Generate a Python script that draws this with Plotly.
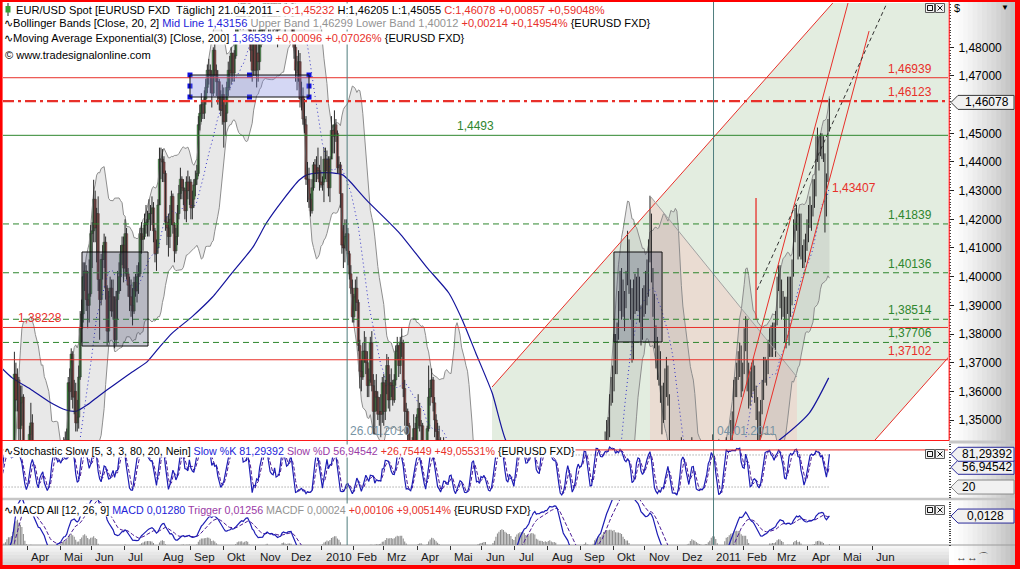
import numpy as np
import pandas as pd
import plotly.graph_objects as go

W, H = 1020, 569
FONT = "Liberation Sans, Arial, sans-serif"

# ------------------------------------------------------------------
# DATA  (EUR/USD daily bars in pips = price * 10000, business days
#        from 2009-02-09 to 2011-04-21; first 20 bars = warm-up)
# ------------------------------------------------------------------
close_pips = [
    12940, 12860, 12930, 12860, 12880, 12810, 12630, 12580, 12700, 12900, 12730, 12870, 12810, 12740, 12660, 12580, 12570, 12660, 12540, 12660,
    12650, 12800, 12760, 12900, 12920, 12870, 12960, 13220, 13660, 13570, 13640, 13470, 13560, 13580, 13280, 13170, 13250,
    13280, 13450, 13490, 13380, 13290, 13290, 13190, 13210, 13340, 13230, 13200, 13170, 13030, 12920, 13030, 13110, 13220, 13250, 13100, 13260, 13250, 13230,
    13270, 13370, 13380, 13310, 13430, 13630, 13600, 13730, 13580, 13600, 13490, 13510, 13650, 13820, 13870, 14000, 14020, 13920, 13900, 13940, 14150,
    14160, 14270, 14170, 14220, 13990, 13920, 14060, 14060, 14120, 13960, 13810, 13930, 13960, 13880, 13930, 13780, 13920, 13950, 14000, 14080, 14110, 14030,
    14150, 14010, 13970, 13930, 13900, 13880, 13980, 13950, 14000, 14010, 14150, 14130, 14140, 14180, 14190, 14200, 14220, 14220, 14240, 14160, 14080, 14100, 14250,
    14410, 14410, 14400, 14360, 14190, 14170, 14140, 14200, 14280, 14180, 14090, 14140, 14220, 14290, 14340, 14310, 14300, 14230, 14330, 14300, 14330,
    14240, 14270, 14320, 14340, 14360, 14530, 14570, 14600, 14570, 14620, 14660, 14720, 14720, 14700, 14640, 14790, 14720, 14680, 14680, 14620, 14580, 14635,
    14540, 14570, 14660, 14720, 14710, 14780, 14710, 14770, 14850, 14920, 14930, 14900, 14960, 14880, 15020, 15050, 15010, 14860, 14790, 14720, 14850, 14720,
    14780, 14750, 14860, 14870, 14860, 15010, 14970, 15000, 14880, 14900, 14970, 14880, 14960, 14870, 14860, 14970, 14970, 15140, 15060, 14980, 15000,
    15090, 15070, 15060, 14850, 14800, 14720, 14710, 14750, 14620, 14630, 14550, 14530, 14340, 14340, 14270, 14230, 14310, 14390, 14360, 14380, 14370, 14330, 14320,
    14330, 14410, 14370, 14410, 14310, 14410, 14510, 14490, 14530, 14500, 14380, 14390, 14290, 14110, 14100, 14140, 14150, 14080, 14010, 13960, 13860,
    13930, 13960, 13910, 13760, 13670, 13650, 13740, 13740, 13700, 13620, 13640, 13770, 13620, 13530, 13600, 13580, 13520, 13530, 13520, 13630,
    13530, 13620, 13690, 13570, 13630, 13620, 13570, 13640, 13740, 13760, 13690, 13770, 13770, 13610, 13530, 13530, 13480, 13310, 13330, 13420, 13470, 13400, 13510,
    13540, 13480, 13480, 13350, 13370, 13340, 13470, 13580, 13610, 13640, 13560, 13500, 13460, 13430, 13420, 13310, 13370, 13370, 13180, 13200, 13260, 13290,
    13200, 12990, 12830, 12620, 12750, 12790, 12680, 12650, 12520, 12380, 12360, 12220, 12300, 12510, 12550, 12350, 12360, 12200, 12370, 12270, 12270,
    12220, 12230, 12190, 11970, 11930, 11980, 11960, 12110, 12110, 12270, 12330, 12310, 12380, 12380, 12330, 12280, 12310, 12300, 12380, 12270, 12170, 12230,
    12510, 12560, 12560, 12620, 12630, 12690, 12640, 12610, 12730, 12750, 12940, 12940, 12940, 12940, 12750, 12920, 12900, 12990, 13000, 12980, 13100, 13050,
    13190, 13230, 13150, 13180, 13270, 13240, 13140, 12900, 12840, 12760, 12820, 12880, 12870, 12840, 12710, 12660, 12630, 12660, 12730, 12760, 12690, 12680,
    12830, 12820, 12890, 12890, 12710, 12740, 12700, 12710, 12890, 13020, 13000, 13070, 13050, 13040, 13250, 13370, 13320, 13490, 13470, 13570, 13620, 13630,
    13790, 13680, 13830, 13910, 13960, 13980, 13900, 13930, 13980, 14100, 13970, 13930, 13720, 13950, 13950, 13960, 13970, 13880, 13800, 13930, 13940,
    13920, 14020, 14100, 14200, 14030, 13930, 13760, 13780, 13670, 13700, 13590, 13560, 13510, 13610, 13670, 13580, 13370, 13330, 13350, 13240, 13070, 12990,
    13150, 13290, 13400, 13250, 13260, 13230, 13240, 13220, 13380, 13370, 13230, 13230, 13180, 13130, 13130, 13110, 13070, 13100, 13130, 13100, 13210, 13220, 13380,
    13350, 13300, 13150, 12990, 12910, 12940, 12970, 13120, 13370, 13380, 13310, 13410, 13470, 13480, 13610, 13620, 13680, 13700, 13760, 13610, 13690,
    13800, 13850, 13650, 13580, 13620, 13640, 13680, 13590, 13540, 13480, 13480, 13540, 13600, 13690, 13670, 13680, 13760, 13790, 13750, 13800,
    13780, 13860, 13980, 14000, 13970, 13900, 13920, 13800, 13900, 13980, 13970, 13920, 14020, 14180, 14180, 14210, 14090, 14210, 14090, 14070, 14100, 14110, 14160,
    14230, 14220, 14230, 14300, 14300, 14480, 14440, 14460, 14440, 14480, 14430, 14230, 14340, 14522, 14608,
]
high_pips = [
    13020, 12990, 12970, 12940, 12930, 12890, 12820, 12690, 12740, 12920, 12940, 12890, 12900, 12880, 12790, 12690, 12640, 12690, 12700, 12710,
    12720, 12840, 12880, 12940, 13000, 12990, 13040, 13300, 13738, 13700, 13680, 13650, 13620, 13620, 13590, 13330, 13310,
    13300, 13480, 13560, 13520, 13380, 13350, 13300, 13250, 13370, 13400, 13260, 13240, 13200, 13050, 13070, 13150, 13260, 13300, 13250, 13280, 13370, 13330,
    13350, 13420, 13440, 13460, 13470, 13650, 13680, 13750, 13740, 13640, 13630, 13570, 13690, 13880, 13920, 14050, 14050, 14040, 14020, 14060, 14180,
    14190, 14338, 14300, 14240, 14280, 13990, 14080, 14110, 14150, 14140, 13970, 13950, 14000, 13990, 13990, 13930, 13950, 14020, 14050, 14110, 14140, 14140,
    14200, 14170, 14030, 14000, 13990, 13960, 14000, 14010, 14040, 14050, 14170, 14190, 14170, 14220, 14250, 14230, 14270, 14250, 14280, 14260, 14170, 14130, 14270,
    14450, 14450, 14445, 14420, 14370, 14210, 14220, 14250, 14300, 14290, 14190, 14170, 14250, 14320, 14380, 14350, 14340, 14310, 14350, 14370, 14350,
    14340, 14300, 14340, 14370, 14390, 14560, 14600, 14640, 14610, 14650, 14690, 14740, 14760, 14740, 14720, 14800, 14844, 14740, 14720, 14690, 14650, 14670,
    14660, 14600, 14680, 14750, 14770, 14800, 14780, 14790, 14880, 14940, 14960, 14940, 14980, 14990, 15050, 15062, 15060, 15060, 14880, 14830, 14870, 14900,
    14820, 14850, 14900, 14900, 14920, 15040, 15020, 15030, 15010, 14930, 15000, 14980, 14990, 14970, 14900, 15000, 15010, 15144, 15140, 15100, 15030,
    15110, 15130, 15090, 15100, 14880, 14830, 14770, 14790, 14780, 14680, 14660, 14620, 14560, 14400, 14380, 14290, 14340, 14400, 14410, 14420, 14450, 14390, 14420,
    14350, 14450, 14450, 14440, 14420, 14420, 14560, 14530, 14580, 14550, 14510, 14420, 14400, 14290, 14180, 14200, 14200, 14170, 14090, 14040, 13990,
    13940, 13990, 14000, 13920, 13780, 13710, 13770, 13810, 13790, 13740, 13680, 13790, 13810, 13660, 13640, 13660, 13600, 13580, 13590, 13650,
    13660, 13640, 13730, 13720, 13660, 13680, 13640, 13660, 13760, 13790, 13760, 13790, 13820, 13780, 13640, 13560, 13540, 13490, 13360, 13440, 13520, 13490, 13520,
    13590, 13560, 13500, 13490, 13410, 13400, 13480, 13690, 13640, 13680, 13650, 13580, 13520, 13490, 13480, 13440, 13390, 13440, 13390, 13260, 13290, 13320,
    13310, 13220, 13000, 12860, 12780, 13090, 12840, 12720, 12670, 12530, 12400, 12480, 12350, 12540, 12670, 12570, 12400, 12370, 12400, 12400, 12310,
    12290, 12300, 12310, 12210, 12000, 12020, 12080, 12140, 12160, 12300, 12370, 12350, 12400, 12410, 12460, 12380, 12330, 12360, 12400, 12390, 12300, 12260,
    12530, 12580, 12590, 12670, 12660, 12720, 12710, 12660, 12750, 12790, 12970, 13030, 12990, 12990, 12960, 12940, 12950, 13010, 13050, 13040, 13110, 13120,
    13230, 13270, 13240, 13220, 13330, 13280, 13240, 13140, 12910, 12860, 12850, 12910, 12900, 12900, 12850, 12730, 12690, 12690, 12750, 12790, 12790, 12720,
    12850, 12860, 12920, 12920, 12900, 12760, 12790, 12760, 12900, 13030, 13070, 13090, 13160, 13090, 13270, 13400, 13460, 13500, 13510, 13590, 13650, 13690,
    13800, 13800, 13840, 13950, 14020, 14030, 13990, 13950, 14020, 14160, 14130, 13990, 13960, 13990, 14010, 14000, 14030, 14000, 13900, 13960, 13970,
    14020, 14060, 14130, 14282, 14220, 14010, 13940, 13830, 13790, 13760, 13740, 13620, 13630, 13680, 13720, 13690, 13590, 13400, 13410, 13380, 13250, 13100,
    13190, 13310, 13440, 13420, 13420, 13280, 13290, 13290, 13400, 13440, 13400, 13270, 13260, 13220, 13190, 13160, 13130, 13120, 13160, 13160, 13230, 13270, 13420,
    13450, 13400, 13320, 13160, 13010, 12970, 13000, 13140, 13400, 13440, 13390, 13430, 13500, 13530, 13640, 13650, 13700, 13740, 13770, 13750, 13700,
    13820, 13862, 13850, 13700, 13670, 13700, 13710, 13690, 13620, 13580, 13530, 13570, 13640, 13720, 13720, 13710, 13780, 13820, 13830, 13840,
    13840, 13880, 14000, 14040, 14040, 13990, 13950, 13930, 13930, 14000, 14000, 14000, 14060, 14200, 14240, 14250, 14220, 14220, 14220, 14110, 14130, 14150, 14200,
    14250, 14280, 14250, 14340, 14340, 14490, 14520, 14490, 14500, 14500, 14490, 14430, 14360, 14550, 14621,
]
low_pips = [
    12850, 12810, 12840, 12820, 12800, 12760, 12580, 12530, 12560, 12660, 12700, 12690, 12770, 12700, 12620, 12530, 12490, 12540, 12500, 12480,
    12560, 12620, 12700, 12710, 12840, 12800, 12840, 12920, 13180, 13530, 13530, 13420, 13410, 13480, 13250, 13110, 13130,
    13110, 13180, 13390, 13320, 13210, 13190, 13150, 13170, 13180, 13180, 13110, 13130, 12970, 12890, 12900, 12990, 13080, 13180, 13060, 13030, 13190, 13200,
    13150, 13240, 13300, 13230, 13280, 13380, 13530, 13570, 13540, 13520, 13460, 13460, 13470, 13640, 13770, 13840, 13950, 13880, 13820, 13840, 13930,
    14030, 14120, 14120, 14050, 13950, 13780, 13900, 13990, 14030, 13920, 13760, 13770, 13880, 13860, 13850, 13750, 13760, 13850, 13940, 13950, 14040, 13980,
    14000, 13990, 13930, 13880, 13860, 13830, 13870, 13930, 13910, 13940, 14000, 14080, 14090, 14130, 14150, 14140, 14140, 14160, 14180, 14120, 14050, 14020, 14080,
    14250, 14340, 14330, 14330, 14160, 14110, 14070, 14100, 14180, 14150, 14050, 14080, 14110, 14200, 14270, 14270, 14250, 14200, 14190, 14270, 14250,
    14200, 14200, 14240, 14280, 14320, 14350, 14510, 14540, 14550, 14550, 14600, 14640, 14670, 14640, 14590, 14630, 14700, 14630, 14600, 14580, 14560, 14530,
    14450, 14490, 14540, 14630, 14650, 14670, 14680, 14680, 14760, 14830, 14880, 14860, 14870, 14860, 14870, 14990, 14980, 14850, 14750, 14680, 14700, 14700,
    14660, 14680, 14720, 14800, 14810, 14850, 14940, 14940, 14830, 14840, 14890, 14850, 14860, 14840, 14800, 14870, 14920, 14960, 15010, 14830, 14940,
    14970, 15010, 15000, 14820, 14760, 14680, 14650, 14680, 14590, 14580, 14530, 14500, 14320, 14260, 14240, 14210, 14220, 14300, 14330, 14330, 14340, 14300, 14310,
    14300, 14260, 14340, 14330, 14280, 14260, 14420, 14430, 14430, 14470, 14360, 14360, 14240, 14080, 14030, 14050, 14090, 14040, 13990, 13940, 13840,
    13840, 13880, 13880, 13740, 13610, 13600, 13640, 13700, 13660, 13580, 13580, 13630, 13600, 13450, 13450, 13530, 13500, 13480, 13440, 13490,
    13480, 13500, 13590, 13540, 13530, 13580, 13550, 13560, 13620, 13710, 13650, 13660, 13720, 13580, 13480, 13450, 13420, 13270, 13270, 13300, 13410, 13380, 13380,
    13470, 13460, 13420, 13320, 13310, 13300, 13310, 13460, 13550, 13580, 13530, 13440, 13390, 13400, 13390, 13290, 13270, 13330, 13160, 13120, 13140, 13230,
    13140, 12970, 12800, 12530, 12520, 12760, 12630, 12580, 12500, 12350, 12230, 12170, 12150, 12290, 12440, 12340, 12150, 12160, 12160, 12220, 12210,
    12120, 12110, 12170, 11960, 11880, 11900, 11940, 11950, 12030, 12100, 12240, 12260, 12260, 12340, 12300, 12230, 12260, 12250, 12270, 12230, 12150, 12150,
    12210, 12480, 12510, 12520, 12560, 12620, 12620, 12580, 12590, 12710, 12740, 12880, 12860, 12840, 12730, 12730, 12830, 12890, 12930, 12960, 12970, 12990,
    13030, 13150, 13120, 13110, 13110, 13200, 13100, 12880, 12820, 12720, 12730, 12790, 12830, 12800, 12700, 12620, 12590, 12620, 12630, 12690, 12680, 12650,
    12660, 12760, 12810, 12860, 12690, 12660, 12660, 12650, 12700, 12860, 12950, 12960, 13000, 12980, 13000, 13210, 13280, 13290, 13400, 13440, 13550, 13560,
    13600, 13660, 13660, 13780, 13880, 13850, 13860, 13810, 13890, 13970, 13940, 13850, 13700, 13710, 13870, 13880, 13880, 13840, 13760, 13780, 13860,
    13870, 13900, 13930, 14050, 13980, 13860, 13750, 13680, 13640, 13620, 13560, 13450, 13490, 13500, 13580, 13550, 13350, 13300, 13290, 13220, 13040, 12970,
    12980, 13120, 13260, 13220, 13220, 13180, 13180, 13190, 13220, 13340, 13210, 13180, 13150, 13080, 13080, 13070, 13050, 13060, 13080, 13070, 13090, 13150, 13190,
    13250, 13250, 13130, 12970, 12870, 12867, 12910, 12950, 13100, 13330, 13280, 13300, 13390, 13410, 13460, 13580, 13580, 13640, 13650, 13580, 13600,
    13660, 13740, 13600, 13540, 13550, 13580, 13600, 13560, 13500, 13430, 13430, 13440, 13520, 13570, 13630, 13620, 13660, 13720, 13720, 13720,
    13750, 13720, 13830, 13950, 13890, 13850, 13860, 13770, 13750, 13870, 13760, 13860, 13900, 14000, 14120, 14160, 14060, 14070, 14060, 14030, 14030, 14050, 14090,
    14120, 14170, 14160, 14210, 14240, 14280, 14400, 14370, 14420, 14410, 14400, 14154, 14210, 14330, 14506,
]

# EMA(200)
ema_dates = ['2009-03-09', '2009-03-18', '2009-04-06', '2009-04-22', '2009-05-07', '2009-05-18', '2009-05-27', '2009-06-08',
             '2009-06-23', '2009-07-08', '2009-07-22', '2009-08-03', '2009-08-14', '2009-09-02', '2009-09-22', '2009-10-09',
             '2009-10-29', '2009-11-11', '2009-11-26', '2009-12-11', '2009-12-18', '2009-12-30', '2010-01-12', '2010-01-21',
             '2010-01-27', '2010-02-12', '2010-03-16', '2010-04-09', '2010-04-30', '2010-05-13', '2010-05-26', '2010-06-10',
             '2010-06-23', '2010-07-15', '2010-08-16', '2010-09-15', '2010-10-15', '2010-11-15', '2010-12-15', '2011-01-14',
             '2011-02-08', '2011-03-07', '2011-04-04', '2011-04-21']
ema_vals = [1.3681, 1.3647, 1.3605, 1.3563, 1.3535, 1.3531, 1.3552, 1.3584, 1.3626, 1.3667, 1.3702, 1.3751, 1.3803, 1.3859,
            1.3929, 1.4013, 1.4103, 1.4187, 1.4267, 1.4337, 1.4355, 1.4362, 1.4362, 1.4355, 1.4337, 1.4267, 1.4152, 1.4034,
            1.3943, 1.3849, 1.3734, 1.3594, 1.3430, 1.3290, 1.3220, 1.3180, 1.3210, 1.3260, 1.3280, 1.3300, 1.3360, 1.3430,
            1.3524, 1.3647]

# Horizontal levels
hline_levels = [1.46939, 1.46123, 1.4493, 1.41839, 1.40136, 1.38514, 1.38228, 1.37706, 1.37102]
hline_labels = ['1,46939', '1,46123', '1,4493', '1,41839', '1,40136', '1,38514', '1,38228', '1,37706', '1,37102']

# Drawing tools (date, price anchors)
channel_dates = ['2010-06-09 21:36', '2011-09-29 12:00']
channel_upper = [1.36151, 1.56996]
channel_lower = [1.19248, 1.40093]
trend_dates = ['2010-12-27', '2011-05-30']
trend1_prices = [1.30782, 1.52298]
trend2_prices = [1.27050, 1.48566]
dash_dates = ['2011-02-14 02:00', '2011-06-27']
dash_prices = [1.39534, 1.50469]
tri_dates = ['2010-11-04 12:00', '2011-03-22 19:00']
tri_prices = [1.4282, 1.3650]
mark_date = '2011-02-11 10:00'
mark_prices = [1.38488, 1.42743]
boxA_dates = ['2009-05-21 17:00', '2009-07-22 20:00']
boxA_prices = [1.37581, 1.40860]
boxB_dates = ['2010-10-01 10:00', '2010-11-16 14:00']
boxB_prices = [1.37721, 1.40860]
sel_dates = ['2009-08-31 22:00', '2009-10-26 17:00', '2009-12-21 12:00']
sel_prices = [1.46266, 1.466495, 1.47033]
vline_dates = ['2010-01-26', '2011-01-04']
vline_labels = ['26.01.2010', '04.01.2011']
trend_value_label = '1,43407'
trend_value = 1.43407

month_starts = ['2009-04-01', '2009-05-01', '2009-06-01', '2009-07-01', '2009-08-03', '2009-09-01', '2009-10-01', '2009-11-02',
                '2009-12-01', '2010-01-01', '2010-02-01', '2010-03-01', '2010-04-01', '2010-05-03', '2010-06-01', '2010-07-01',
                '2010-08-02', '2010-09-01', '2010-10-01', '2010-11-01', '2010-12-01', '2011-01-03', '2011-02-01', '2011-03-01',
                '2011-04-01', '2011-05-02', '2011-06-01']
month_labels = ['Apr', 'Mai', 'Jun', 'Jul', 'Aug', 'Sep', 'Okt', 'Nov', 'Dez', '2010', 'Feb', 'Mrz', 'Apr', 'Mai', 'Jun', 'Jul',
                'Aug', 'Sep', 'Okt', 'Nov', 'Dez', '2011', 'Feb', 'Mrz', 'Apr', 'Mai', 'Jun']
y_tick_vals = [1.35, 1.36, 1.37, 1.38, 1.39, 1.40, 1.41, 1.42, 1.43, 1.44, 1.45, 1.47, 1.48]

last_close = 1.46078
last_close_txt = '1,46078'
stoch_k_last, stoch_k_txt = 81.29392, '81,29392'
stoch_d_last, stoch_d_txt = 56.94542, '56,94542'
macd_last, macd_txt = 0.0128, '0,0128'

# ------------------------------------------------------------------
# series / indicators
# ------------------------------------------------------------------
n = min(len(close_pips), len(high_pips), len(low_pips))
dates = pd.bdate_range('2009-02-09', periods=n)
bar_x = dates + pd.Timedelta(hours=12)          # bar centre = middle of the trading day
c = pd.Series(np.array(close_pips[:n]) / 10000.0, index=dates)
hi = pd.Series(np.array(high_pips[:n]) / 10000.0, index=dates)
lo = pd.Series(np.array(low_pips[:n]) / 10000.0, index=dates)
o = c.shift(1).fillna(c.iloc[0])
hi = np.maximum(hi, np.maximum(o, c))
lo = np.minimum(lo, np.minimum(o, c))

bb_mid = c.rolling(20).mean()
bb_sd = c.rolling(20).std(ddof=0)
bb_up = bb_mid + 2 * bb_sd
bb_lo = bb_mid - 2 * bb_sd

ll5 = lo.rolling(5).min()
hh5 = hi.rolling(5).max()
fastk = 100 * (c - ll5) / (hh5 - ll5)
slowk = fastk.rolling(3).mean()
slowd = slowk.rolling(3).mean()

ema12 = c.ewm(span=12, adjust=False).mean()
ema26 = c.ewm(span=26, adjust=False).mean()
macd = ema12 - ema26
trig = macd.ewm(span=9, adjust=False).mean()
hist = macd - trig

# ------------------------------------------------------------------
# layout helpers
# ------------------------------------------------------------------
def px(x):
    return x / W


def py(y):
    return 1 - y / H


P_LO, P_HI = 1.34303, 1.49545
X_RANGE = ['2009-03-09 21:00', '2011-08-10 19:00']
XDOM = [px(3), px(948)]
RED = '#e8302a'
GREEN = '#2e862e'
BLUE = '#2323d8'
GRAY = '#939393'
PURPLE = '#9a3aa6'
DAY_MS = 86400000

fig = go.Figure()

# green channel area
fig.add_trace(go.Scatter(
    x=[channel_dates[0], channel_dates[1], channel_dates[1], channel_dates[0], channel_dates[0]],
    y=[channel_upper[0], channel_upper[1], channel_lower[1], channel_lower[0], channel_upper[0]],
    fill='toself', fillcolor='#e3ede0', line=dict(width=0), mode='lines', hoverinfo='skip'))
# tan triangle area
fig.add_trace(go.Scatter(
    x=[tri_dates[0], tri_dates[1], tri_dates[1], tri_dates[0], tri_dates[0]],
    y=[tri_prices[0], tri_prices[1], 1.30, 1.30, tri_prices[0]],
    fill='toself', fillcolor='#eadcd2', line=dict(width=0), mode='lines', hoverinfo='skip'))

# Bollinger bands
v = bb_up.notna().values
fig.add_trace(go.Scatter(x=bar_x[v], y=bb_lo[v], mode='lines', line=dict(color='#8e8e8e', width=1), hoverinfo='skip'))
fig.add_trace(go.Scatter(x=bar_x[v], y=bb_up[v], mode='lines', line=dict(color='#8e8e8e', width=1),
                         fill='tonexty', fillcolor='rgba(150,150,150,0.22)', hoverinfo='skip'))
fig.add_trace(go.Scatter(x=bar_x[v], y=bb_mid[v], mode='lines', line=dict(color='#3434c8', width=1, dash='1px,3px'),
                         hoverinfo='skip'))

# EMA 200
fig.add_trace(go.Scatter(x=ema_dates, y=ema_vals, mode='lines', line=dict(color='#14149c', width=1.2, shape='spline', smoothing=0.6),
                         hoverinfo='skip'))

# candles: wicks + bodies
wx, wy = [], []
for t, h_, l_ in zip(bar_x, hi.values, lo.values):
    wx += [t, t, None]
    wy += [l_, h_, None]
fig.add_trace(go.Scatter(x=wx, y=wy, mode='lines', line=dict(color='#2a2a2a', width=1), hoverinfo='skip'))
up = (c >= o).values
dn = ~up
fig.add_trace(go.Bar(x=bar_x[up], y=(c - o).values[up], base=o.values[up], width=1.6 * DAY_MS,
                     marker=dict(color='#42b442', line=dict(color='#1e1e1e', width=0.45)), hoverinfo='skip'))
fig.add_trace(go.Bar(x=bar_x[dn], y=(o - c).values[dn], base=c.values[dn], width=1.6 * DAY_MS,
                     marker=dict(color='#c84a46', line=dict(color='#1e1e1e', width=0.45)), hoverinfo='skip'))

# drawing tool lines
fig.add_trace(go.Scatter(x=channel_dates, y=channel_upper, mode='lines', line=dict(color=RED, width=1), hoverinfo='skip'))
fig.add_trace(go.Scatter(x=channel_dates, y=channel_lower, mode='lines', line=dict(color=RED, width=1), hoverinfo='skip'))
fig.add_trace(go.Scatter(x=tri_dates, y=tri_prices, mode='lines', line=dict(color='#a2a2a2', width=1), hoverinfo='skip'))
fig.add_trace(go.Scatter(x=trend_dates, y=trend1_prices, mode='lines', line=dict(color=RED, width=1), hoverinfo='skip'))
fig.add_trace(go.Scatter(x=trend_dates, y=trend2_prices, mode='lines', line=dict(color=RED, width=1), hoverinfo='skip'))
fig.add_trace(go.Scatter(x=dash_dates, y=dash_prices, mode='lines', line=dict(color='#303030', width=1, dash='4px,3px'),
                         hoverinfo='skip'))
fig.add_trace(go.Scatter(x=[mark_date, mark_date], y=mark_prices, mode='lines', line=dict(color=RED, width=1.3), hoverinfo='skip'))

# selection handles on blue rectangle
hx, hy = [], []
for i, dx in enumerate(sel_dates):
    for j, yy in enumerate(sel_prices):
        if i == 1 and j == 1:
            continue
        hx.append(dx)
        hy.append(yy)
fig.add_trace(go.Scatter(x=hx, y=hy, mode='markers', marker=dict(symbol='square', size=5, color='#1010e0'), hoverinfo='skip',
                         cliponaxis=False))

# stochastic panel
fig.add_trace(go.Scatter(x=[bar_x[0], bar_x[-1]], y=[80, 80], xaxis='x2', yaxis='y2', mode='lines',
                         line=dict(color='#808080', width=1, dash='1px,2px'), hoverinfo='skip'))
fig.add_trace(go.Scatter(x=[bar_x[0], bar_x[-1]], y=[20, 20], xaxis='x2', yaxis='y2', mode='lines',
                         line=dict(color='#808080', width=1, dash='1px,2px'), hoverinfo='skip'))
fig.add_trace(go.Scatter(x=bar_x, y=slowd, xaxis='x2', yaxis='y2', mode='lines',
                         line=dict(color='#4a1a96', width=1, dash='4px,2px'), hoverinfo='skip'))
fig.add_trace(go.Scatter(x=bar_x, y=slowk, xaxis='x2', yaxis='y2', mode='lines',
                         line=dict(color='#1c1cb4', width=1.2), hoverinfo='skip'))

# MACD panel
fig.add_trace(go.Bar(x=bar_x, y=hist, xaxis='x3', yaxis='y3', width=0.7 * DAY_MS,
                     marker=dict(color='#8a8a8a', line=dict(width=0)), hoverinfo='skip'))
fig.add_trace(go.Scatter(x=bar_x, y=trig, xaxis='x3', yaxis='y3', mode='lines',
                         line=dict(color='#4a1a96', width=1, dash='4px,2px'), hoverinfo='skip'))
fig.add_trace(go.Scatter(x=bar_x, y=macd, xaxis='x3', yaxis='y3', mode='lines',
                         line=dict(color='#1c1cb4', width=1.2), hoverinfo='skip'))

# ------------------------------------------------------------------
# shapes
# ------------------------------------------------------------------
def prect(x0, x1, y0, y1, color, layer='below'):
    fig.add_shape(type='rect', xref='paper', yref='paper', x0=px(x0), x1=px(x1), y0=py(y1), y1=py(y0),
                  fillcolor=color, line=dict(width=0), layer=layer)


# right axis column gradient
NS = 14
for i in range(NS):
    g = int(round(255 - 62 * (i / (NS - 1)) ** 1.3))
    xa = 949 + (1015 - 949) * i / NS
    xb = 949 + (1015 - 949) * (i + 1) / NS + 0.6
    prect(xa, xb, 0, 569, f'rgb({g},{g},{g})')
# time axis strip gradient
for i in range(6):
    g = int(round(246 - 34 * i / 5))
    ya = 545 + 20 * i / 6
    yb = 545 + 20 * (i + 1) / 6 + 0.5
    prect(0, 949, ya, yb, f'rgb({g},{g},{g})')
# panel separators
prect(0, 1015, 497.8, 500.2, '#c6c6c6')
prect(0, 1015, 544.6, 545.6, '#9c9c9c')
prect(949, 1015, 440.5, 443.5, '#c6c6c6')

# horizontal level lines
hl_style = [(RED, 'solid', 1), (RED, '11px,4px,3px,4px', 2.2), (GREEN, 'solid', 1), (GREEN, '6px,4px', 1), (GREEN, '6px,4px', 1),
            (GREEN, '6px,4px', 1), (RED, 'solid', 1), (GREEN, '6px,4px', 1), (RED, 'solid', 1)]
for lvl, (col, dsh, wd) in zip(hline_levels, hl_style):
    fig.add_shape(type='line', xref='x domain', x0=0, x1=1, yref='y', y0=lvl, y1=lvl,
                  line=dict(color=col, width=wd, dash=dsh), layer='above')

# boxes
fig.add_shape(type='rect', xref='x', yref='y', x0=boxA_dates[0], x1=boxA_dates[1], y0=boxA_prices[0], y1=boxA_prices[1],
              fillcolor='rgba(60,65,100,0.28)', line=dict(color='#111111', width=1), layer='above')
fig.add_shape(type='rect', xref='x', yref='y', x0=boxB_dates[0], x1=boxB_dates[1], y0=boxB_prices[0], y1=boxB_prices[1],
              fillcolor='rgba(60,65,100,0.28)', line=dict(color='#111111', width=1), layer='above')
fig.add_shape(type='rect', xref='x', yref='y', x0=sel_dates[0], x1=sel_dates[2], y0=sel_prices[0], y1=sel_prices[2],
              fillcolor='rgba(120,130,220,0.32)', line=dict(color='#111111', width=1), layer='above')

# vertical date lines across all panels
for d in vline_dates:
    fig.add_shape(type='line', xref='x', x0=d, x1=d, yref='paper', y0=py(545), y1=py(1.5),
                  line=dict(color='#4f7d7d', width=1), layer='above')

# stochastic red line
fig.add_shape(type='line', xref='x2 domain', x0=0, x1=1, yref='y2', y0=89.5, y1=89.5,
              line=dict(color=RED, width=1), layer='above')

# red frames
fig.add_shape(type='line', xref='paper', yref='paper', x0=px(0), x1=px(949), y0=py(440.5), y1=py(440.5),
              line=dict(color='#ff1a1a', width=1.2), layer='above')
fig.add_shape(type='line', xref='paper', yref='paper', x0=px(949.2), x1=px(949.2), y0=py(440.5), y1=py(0),
              line=dict(color='#ff1a1a', width=1.2), layer='above')
prect(0, 2.6, 0, 569, '#ff0000', 'above')
prect(0, 1020, 0, 2.0, '#ff0000', 'above')
prect(1015, 1020, 0, 569, '#ff0000', 'above')
prect(0, 1020, 565, 569, '#ff0000', 'above')

# small header candle icon
fig.add_shape(type='line', xref='paper', yref='paper', x0=px(8), x1=px(8), y0=py(16), y1=py(3),
              line=dict(color='#202020', width=1), layer='above')
prect(5.5, 10.5, 6, 12.5, '#35a035', 'above')

# panel buttons (maximize / close)
for ytop in (3.5, 449.5, 505.5):
    for xl in (925.5, 935.5):
        fig.add_shape(type='rect', xref='paper', yref='paper', x0=px(xl), x1=px(xl + 9), y0=py(ytop + 9), y1=py(ytop),
                      fillcolor='#f2f2f2', line=dict(color='#5a5a5a', width=1), layer='above')
    fig.add_shape(type='rect', xref='paper', yref='paper', x0=px(927.5), x1=px(932.5), y0=py(ytop + 7), y1=py(ytop + 2),
                  fillcolor='rgba(0,0,0,0)', line=dict(color='#111', width=1), layer='above')
    fig.add_shape(type='line', xref='paper', yref='paper', x0=px(937.5), x1=px(942.5), y0=py(ytop + 7), y1=py(ytop + 2),
                  line=dict(color='#111', width=1), layer='above')
    fig.add_shape(type='line', xref='paper', yref='paper', x0=px(937.5), x1=px(942.5), y0=py(ytop + 2), y1=py(ytop + 7),
                  line=dict(color='#111', width=1), layer='above')


# value boxes on the right axes
def value_box(yref, val, border):
    fig.add_shape(type='path', xref='paper', xsizemode='pixel', xanchor=px(950), yref=yref, ysizemode='pixel', yanchor=val,
                  path='M1,0 L8,7 L64,7 L64,-7 L8,-7 Z', fillcolor='#f1f1f1', line=dict(color=border, width=1), layer='above')


value_box('y', last_close, '#3a3a3a')
value_box('y2', 20, '#8a8a8a')
value_box('y2', stoch_d_last, '#2a2a9a')
value_box('y2', stoch_k_last, '#2a2a9a')
value_box('y3', macd_last, '#2a2a9a')

# ------------------------------------------------------------------
# annotations
# ------------------------------------------------------------------
ann = []


def A(**kw):
    base = dict(showarrow=False, font=dict(family=FONT, size=11.1, color='black'))
    if 'font' in kw:
        f = dict(base['font'])
        f.update(kw.pop('font'))
        base['font'] = f
    base.update(kw)
    ann.append(base)


def sp(col, t):
    return f"<span style='color:{col}'>{t}</span>"


line1 = ("EUR/USD Spot [EURUSD FXD  Täglich] 21.04.2011 - " + sp(RED, 'O:1,45232') + " H:1,46205 L:1,45055 "
         + sp(RED, 'C:1,46078 +0,00857 +0,59048%'))
line2 = ("∿Bollinger Bands [Close, 20, 2] " + sp(BLUE, 'Mid Line 1,43156') + " " + sp(GRAY, 'Upper Band 1,46299 Lower Band 1,40012')
         + " " + sp(RED, '+0,00214 +0,14954%') + " {EURUSD FXD}")
line3 = ("∿Moving Average Exponential(3) [Close, 200] " + sp(BLUE, '1,36539') + " " + sp(RED, '+0,00096 +0,07026%')
         + " {EURUSD FXD}")
line4 = "© www.tradesignalonline.com"
stoch_head = ("∿Stochastic Slow [5, 3, 3, 80, 20, Nein] " + sp(BLUE, 'Slow %K 81,29392') + " " + sp(PURPLE, 'Slow %D 56,94542')
              + " " + sp(RED, '+26,75449 +49,05531%') + " {EURUSD FXD}")
macd_head = ("∿MACD All [12, 26, 9] " + sp(BLUE, 'MACD 0,01280') + " " + sp(PURPLE, 'Trigger 0,01256') + " "
             + sp(GRAY, 'MACDF 0,00024') + " " + sp(RED, '+0,00106 +9,00514%') + " {EURUSD FXD}")

A(xref='paper', yref='paper', x=px(15), y=py(9.5), xanchor='left', yanchor='middle', text=line1, bgcolor='white', borderpad=0)
A(xref='paper', yref='paper', x=px(3), y=py(23.5), xanchor='left', yanchor='middle', text=line2, bgcolor='white', borderpad=0)
A(xref='paper', yref='paper', x=px(3), y=py(37.5), xanchor='left', yanchor='middle', text=line3, bgcolor='white', borderpad=0)
A(xref='paper', yref='paper', x=px(3), y=py(54.5), xanchor='left', yanchor='middle', text=line4)
A(xref='paper', yref='paper', x=px(3), y=py(451), xanchor='left', yanchor='middle', text=stoch_head, bgcolor='white', borderpad=0,
  font=dict(size=10.7))
A(xref='paper', yref='paper', x=px(3), y=py(510), xanchor='left', yanchor='middle', text=macd_head, bgcolor='white', borderpad=0,
  font=dict(size=10.7))

# level labels
lab_pos = [(934, 'right'), (934, 'right'), (475, 'center'), (934, 'right'), (934, 'right'), (934, 'right'), (16, 'left'),
           (934, 'right'), (934, 'right')]
lab_col = [RED, RED, GREEN, GREEN, GREEN, GREEN, RED, GREEN, RED]
for lvl, txt, (xp, anc), col in zip(hline_levels, hline_labels, lab_pos, lab_col):
    A(xref='paper', x=px(xp), xanchor=anc, yref='y', y=lvl, yanchor='bottom', yshift=0, text=txt,
      font=dict(color=col, size=12))
A(xref='x', x=bar_x[-1], xanchor='left', xshift=1, yref='y', y=trend_value, yanchor='top', text=trend_value_label,
  font=dict(color=RED, size=12))

# vertical line labels
for d, t in zip(vline_dates, vline_labels):
    A(xref='x', x=d, xanchor='left', xshift=1, yref='y', y=P_LO, yanchor='bottom', yshift=0, text=t,
      font=dict(color='#7894a4', size=12))

# month labels
for d, t in zip(month_starts, month_labels):
    A(xref='x3', x=d, xanchor='left', xshift=2, yref='paper', y=py(556), yanchor='middle', text=t,
      font=dict(color='#1a1a1a', size=11.6))

# axis box texts
A(xref='paper', x=px(987), yref='y', y=last_close, xanchor='center', yanchor='middle', text=last_close_txt, font=dict(size=12))
A(xref='paper', x=px(987), yref='y2', y=stoch_k_last, xanchor='center', yanchor='middle', text=stoch_k_txt, font=dict(size=12))
A(xref='paper', x=px(987), yref='y2', y=stoch_d_last, xanchor='center', yanchor='middle', text=stoch_d_txt, font=dict(size=12))
A(xref='paper', x=px(960), yref='y2', y=20, xanchor='left', yanchor='middle', text='20', font=dict(size=12))
A(xref='paper', x=px(985), yref='y3', y=macd_last, xanchor='center', yanchor='middle', text=macd_txt, font=dict(size=12))
A(xref='paper', x=px(952), yref='paper', y=py(8), xanchor='left', yanchor='middle', text='$', font=dict(size=11))
A(xref='paper', x=px(1011), yref='paper', y=py(7), xanchor='right', yanchor='middle', text='▼', font=dict(size=8))
A(xref='paper', x=px(954), yref='paper', y=py(557), xanchor='left', yanchor='middle', text='↔↔⌒', font=dict(size=11, color='#333'))

# ------------------------------------------------------------------
# axes
# ------------------------------------------------------------------
xcommon = dict(type='date', range=X_RANGE, rangebreaks=[dict(bounds=['sat', 'mon'])], showgrid=False, zeroline=False,
               showline=False, showticklabels=False, rangeslider=dict(visible=False), fixedrange=True)
fig.update_layout(
    width=W, height=H, autosize=False, margin=dict(l=0, r=0, t=0, b=0, pad=0),
    paper_bgcolor='white', plot_bgcolor='white', showlegend=False, hovermode=False,
    separators=',.', barmode='overlay',
    font=dict(family=FONT, size=12, color='black'),
    xaxis=dict(domain=XDOM, anchor='y', ticks='', **xcommon),
    xaxis2=dict(domain=XDOM, anchor='y2', ticks='', **xcommon),
    xaxis3=dict(domain=XDOM, anchor='y3', ticks='outside', ticklen=4, tickcolor='#333333', tickwidth=1,
                tickmode='array', tickvals=month_starts, **xcommon),
    yaxis=dict(domain=[py(440), py(3)], range=[P_LO, P_HI], side='right', anchor='x', tickmode='array', tickvals=y_tick_vals,
               tickformat='.5f', ticks='outside', ticklen=5, tickcolor='#222222', showgrid=False, zeroline=False,
               showline=False, tickfont=dict(size=12, family=FONT), ticklabelstandoff=2, fixedrange=True,
               minor=dict(ticks='outside', ticklen=2, tickcolor='#444444', tickmode='linear', tick0=1.3, dtick=0.001)),
    yaxis2=dict(domain=[py(497.7), py(444.3)], range=[0, 100], side='right', anchor='x2', showticklabels=False,
                ticks='outside', ticklen=2, tickcolor='#444444', tickmode='linear', tick0=0, dtick=5,
                showgrid=False, zeroline=False, fixedrange=True),
    yaxis3=dict(domain=[py(545), py(500)], range=[0, 0.0199], side='right', anchor='x3', showticklabels=False,
                ticks='outside', ticklen=2, tickcolor='#444444', tickmode='linear', tick0=0, dtick=0.001,
                showgrid=False, zeroline=False, fixedrange=True),
    annotations=ann,
)

fig.write_html("out.html", config={'displayModeBar': False, 'staticPlot': True},
               post_script="document.body.style.margin='0px';")
